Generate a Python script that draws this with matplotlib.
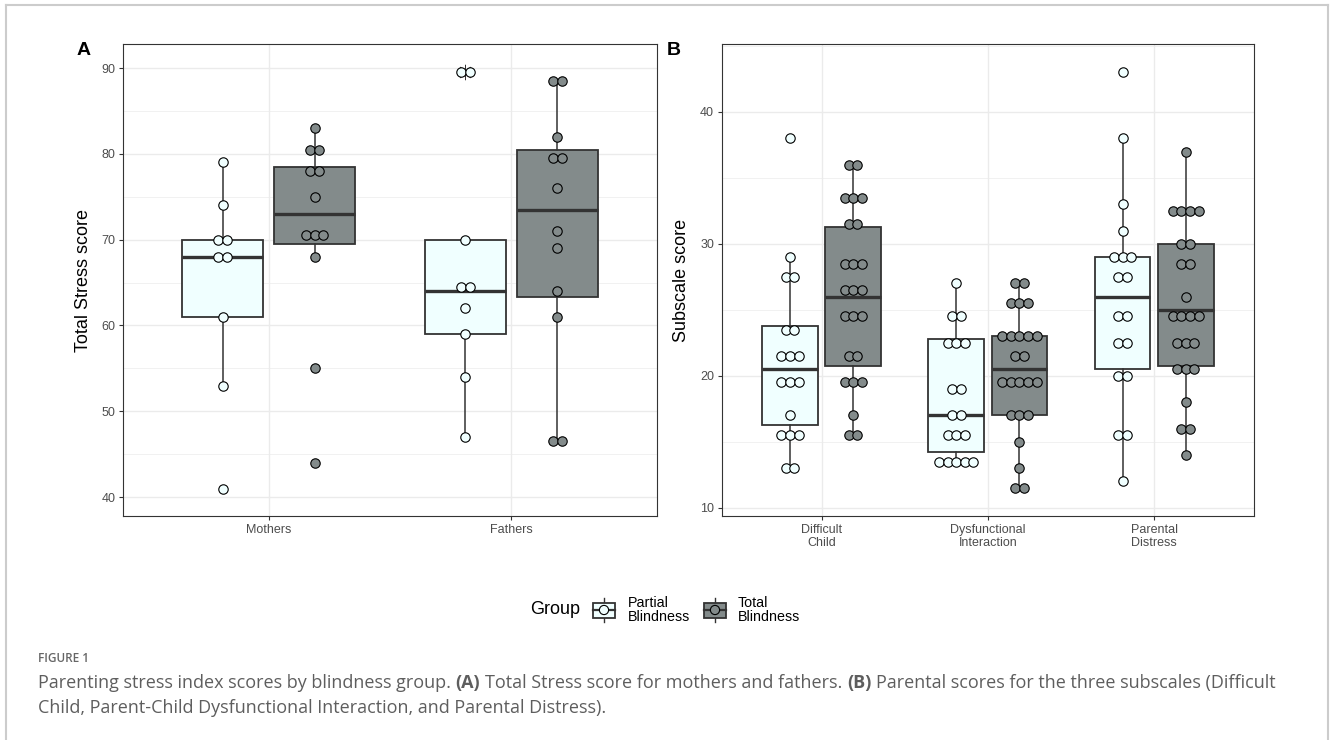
import numpy as np
import matplotlib.pyplot as plt
from matplotlib.patches import Rectangle, Circle
from matplotlib.lines import Line2D
from matplotlib.ticker import MultipleLocator

plt.rcParams['font.family'] = ['Liberation Sans', 'DejaVu Sans']

W, H = 1330, 740

group_labels = ['Partial\nBlindness', 'Total\nBlindness']
group_fill = ['#F0FFFF', '#838B8B']   # azure / azure4
parents = ['Mothers', 'Fathers']
subscales = ['Difficult\nChild', 'Dysfunctional\nInteraction', 'Parental\nDistress']

# Total Stress scores (dot positions as binned by the dot plot)
mothers_partial = [41, 53, 61, 68, 68, 70, 70, 74, 79]
mothers_total = [44, 55, 68, 70.5, 70.5, 70.5, 75, 78, 78, 80.5, 80.5, 83]
fathers_partial = [47, 54, 59, 62, 64.5, 64.5, 70, 89.5, 89.5]
fathers_total = [46.5, 46.5, 61, 64, 69, 71, 76, 79.5, 79.5, 82, 88.5, 88.5]

# Subscale scores
dc_partial = [13, 13, 15.5, 15.5, 15.5, 17, 19.5, 19.5, 19.5, 21.5, 21.5, 21.5,
              23.5, 23.5, 27.5, 27.5, 29, 38]
dc_total = [15.5, 15.5, 17, 19.5, 19.5, 19.5, 21.5, 21.5, 24.5, 24.5, 24.5, 26.5,
            26.5, 26.5, 28.5, 28.5, 28.5, 31.5, 31.5, 33.5, 33.5, 33.5, 36, 36]
di_partial = [13.5, 13.5, 13.5, 13.5, 13.5, 15.5, 15.5, 15.5, 17, 17, 19, 19,
              22.5, 22.5, 22.5, 24.5, 24.5, 27]
di_total = [11.5, 11.5, 13, 15, 17, 17, 17, 19.5, 19.5, 19.5, 19.5, 19.5, 21.5,
            21.5, 23, 23, 23, 23, 23, 25.5, 25.5, 25.5, 27, 27]
pd_partial = [12, 15.5, 15.5, 20, 20, 22.5, 22.5, 24.5, 24.5, 27.5, 27.5, 29, 29,
              29, 31, 33, 38, 43]
pd_total = [14, 16, 16, 18, 20.5, 20.5, 20.5, 22.5, 22.5, 22.5, 24.5, 24.5, 24.5,
            24.5, 26, 28.5, 28.5, 30, 30, 32.5, 32.5, 32.5, 32.5, 37]

# box statistics: whisker low, Q1, median, Q3, whisker high
mothers_partial_box = [53, 61, 68, 70, 79]
mothers_total_box = [68, 69.5, 73, 78.5, 83]
fathers_partial_box = [47, 59, 64, 70, 70]
fathers_total_box = [46.5, 63.3, 73.5, 80.5, 88.5]
dc_partial_box = [13, 16.25, 20.5, 23.75, 29]
dc_total_box = [15.5, 20.75, 26, 31.25, 36]
di_partial_box = [13.5, 14.25, 17, 22.75, 27]
di_total_box = [11.5, 17, 20.5, 23, 27]
pd_partial_box = [12, 20.5, 26, 29, 38]
pd_total_box = [14, 20.75, 25, 30, 37]

# extreme value flagged with an asterisk (fathers, partial blindness)
fathers_partial_flag = [89.5]

DARK = '#333333'
DOT_SPACING = 8.6  # px between stacked dots


def draw_panel(ax, cats, boxes, dots, flags, ax_w_px, xlim):
    px_per_unit = ax_w_px / (xlim[1] - xlim[0])
    dx = DOT_SPACING / px_per_unit
    for i in range(len(cats)):
        for g in range(2):
            pos = i + 1 + (-0.19 if g == 0 else 0.19)
            lo, q1, med, q3, hi = boxes[i][g]
            st = [dict(whislo=lo, q1=q1, med=med, q3=q3, whishi=hi, fliers=[])]
            bp = ax.bxp(st, positions=[pos], widths=0.335, patch_artist=True,
                        showcaps=False, showfliers=False, manage_ticks=False,
                        boxprops=dict(facecolor=group_fill[g], edgecolor=DARK, linewidth=1.3),
                        whiskerprops=dict(color=DARK, linewidth=1.1),
                        medianprops=dict(color=DARK, linewidth=2.4))
            for artist in bp['boxes'] + bp['whiskers'] + bp['medians']:
                artist.set_zorder(2)
            if flags[i][g]:
                ax.plot([pos] * len(flags[i][g]), flags[i][g], linestyle='none',
                        marker=(8, 2, 0), markersize=11, markeredgecolor=DARK,
                        markeredgewidth=0.7, zorder=2.5)
            # centred dot stacks
            vals, counts = np.unique(dots[i][g], return_counts=True)
            xs, ys = [], []
            for v, n in zip(vals, counts):
                for k in range(n):
                    xs.append(pos + (k - (n - 1) / 2) * dx)
                    ys.append(v)
            ax.scatter(xs, ys, s=46, facecolor=group_fill[g], edgecolor='black',
                       linewidth=0.8, zorder=3)

    ax.set_xlim(*xlim)
    ax.set_xticks(range(1, len(cats) + 1))
    ax.set_xticklabels(cats)
    ax.yaxis.set_minor_locator(MultipleLocator(5))
    ax.grid(True, which='major', color='#EBEBEB', linewidth=1.0, zorder=0)
    ax.grid(True, which='minor', axis='y', color='#EBEBEB', linewidth=0.5, zorder=0)
    ax.set_axisbelow(True)
    for sp in ax.spines.values():
        sp.set_color(DARK)
        sp.set_linewidth(0.8)
    ax.tick_params(which='major', length=3, width=0.8, color=DARK, labelsize=9,
                   labelcolor='#4D4D4D', pad=2.5)
    ax.tick_params(which='minor', length=0)


fig = plt.figure(figsize=(W / 100, H / 100), dpi=100)
fig.patch.set_facecolor('white')

axA = fig.add_axes([123 / W, 1 - 516 / H, 534 / W, 472 / H])
axB = fig.add_axes([721.7 / W, 1 - 516 / H, 532.3 / W, 472 / H])

draw_panel(axA, parents,
           [[mothers_partial_box, mothers_total_box], [fathers_partial_box, fathers_total_box]],
           [[mothers_partial, mothers_total], [fathers_partial, fathers_total]],
           [[[], []], [fathers_partial_flag, []]],
           534, (0.4, 2.6))
axA.set_ylim(37.8, 92.8)
axA.yaxis.set_major_locator(MultipleLocator(10))
axA.set_ylabel('Total Stress score', fontsize=13)
axA.yaxis.set_label_coords(-0.058, 0.5)

draw_panel(axB, subscales,
           [[dc_partial_box, dc_total_box], [di_partial_box, di_total_box],
            [pd_partial_box, pd_total_box]],
           [[dc_partial, dc_total], [di_partial, di_total], [pd_partial, pd_total]],
           [[[], []], [[], []], [[], []]],
           532.3, (0.4, 3.6))
axB.set_ylim(9.37, 45.15)
axB.yaxis.set_major_locator(MultipleLocator(10))
axB.set_ylabel('Subscale score', fontsize=13)
axB.yaxis.set_label_coords(-0.06, 0.5)

# overlay in pixel units for panel tags, legend, caption and frame
ov = fig.add_axes([0, 0, 1, 1], zorder=5)
ov.set_xlim(0, W)
ov.set_ylim(H, 0)
ov.axis('off')
ov.patch.set_alpha(0)

ov.text(77, 55, 'A', fontsize=14, fontweight='bold', va='baseline', ha='left')
ov.text(667, 55, 'B', fontsize=14, fontweight='bold', va='baseline', ha='left')

# legend
ov.text(580, 610, 'Group', fontsize=13, ha='right', va='center')
for g, (kx, tx) in enumerate([(604, 628), (715, 738)]):
    ov.add_line(Line2D([kx, kx], [598, 622], color=DARK, lw=1.0, zorder=1))
    ov.add_patch(Rectangle((kx - 11, 602.5), 22, 15, facecolor=group_fill[g],
                           edgecolor=DARK, lw=1.3, zorder=2))
    ov.add_line(Line2D([kx - 11, kx + 11], [610, 610], color=DARK, lw=1.6, zorder=3))
    ov.add_patch(Circle((kx, 610), 4.6, facecolor=group_fill[g], edgecolor='black',
                        lw=0.8, zorder=4))
    ov.text(tx, 610, group_labels[g], fontsize=10.3, ha='left', va='center',
            linespacing=1.0)

# frame around the figure
for xs, ys in [([6, 6], [5, H]), ([6, 1328], [5, 5]), ([1328, 1328], [5, H])]:
    ov.add_line(Line2D(xs, ys, color='#CCCCCC', lw=1.5))

# caption
CAP = ['Open Sans', 'DejaVu Sans']
cap_color = '#5E5E5E'
ov.text(38, 662, 'FIGURE 1', fontsize=8.5, fontweight='semibold', color='#666666',
        family=CAP, va='baseline')

line1 = [('Parenting stress index scores by blindness group.', 'normal'),
         ('(A)', 'bold'),
         ('Total Stress score for mothers and fathers.', 'normal'),
         ('(B)', 'bold'),
         ('Parental scores for the three subscales (Difficult', 'normal')]
line2 = [('Child, Parent-Child Dysfunctional Interaction, and Parental Distress).', 'normal')]

renderer = fig.canvas.get_renderer()


def run_width(runs, size):
    total = 0
    for txt, wt in runs:
        t = ov.text(0, 0, txt, fontsize=size, fontweight=wt, family=CAP)
        total += t.get_window_extent(renderer).width
        t.remove()
    return total


def space_width(size):
    a = ov.text(0, 0, 'x x', fontsize=size, family=CAP)
    b = ov.text(0, 0, 'xx', fontsize=size, family=CAP)
    w = a.get_window_extent(renderer).width - b.get_window_extent(renderer).width
    a.remove()
    b.remove()
    return w


base = 11
nat = run_width(line1, base) + space_width(base) * (len(line1) - 1)
cap_size = base * 1247 / nat
sp = space_width(cap_size)


def draw_runs(runs, x, y):
    for txt, wt in runs:
        t = ov.text(x, y, txt, fontsize=cap_size, fontweight=wt, family=CAP,
                    color=cap_color, va='baseline', ha='left')
        x += t.get_window_extent(renderer).width + sp


draw_runs(line1, 38, 688)
draw_runs(line2, 38, 713)

fig.savefig('out.png', dpi=100, facecolor='white')
